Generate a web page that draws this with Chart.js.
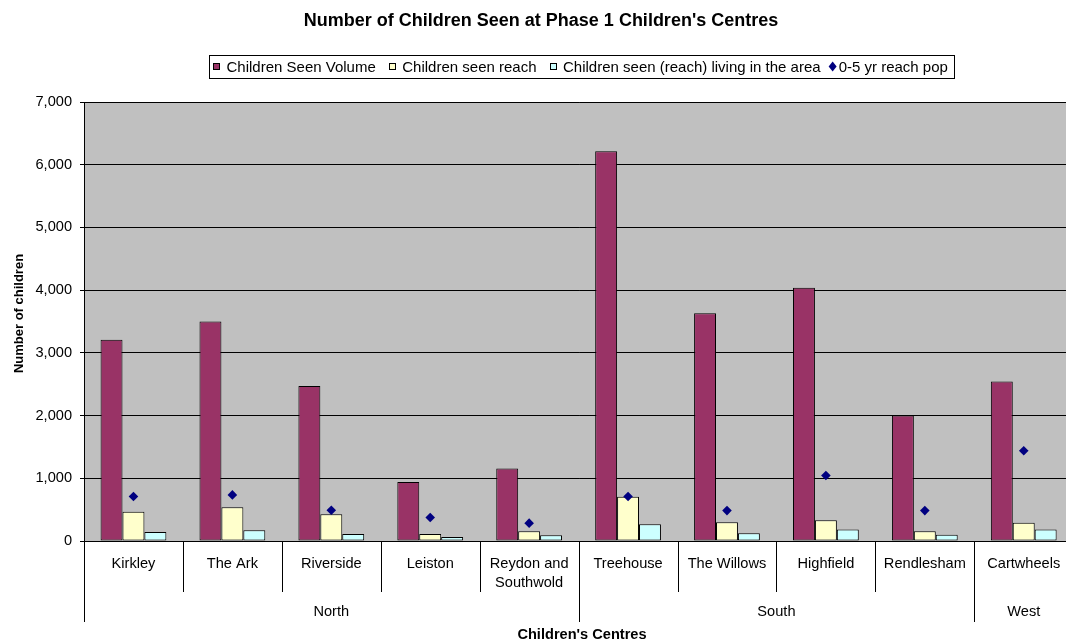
<!DOCTYPE html>
<html>
<head>
<meta charset="utf-8">
<title>Number of Children Seen at Phase 1 Children's Centres</title>
<script src="https://cdn.jsdelivr.net/npm/chart.js@4"></script>
<style>
    html, body { margin: 0; padding: 0; overflow: hidden; background: #ffffff; }
    #chartBox { position: absolute; left: 0; top: 0; }
</style>
</head>
<body>
<canvas id="chartBox" width="1078" height="641"></canvas>
<script>
"use strict";

// Данные диаграммы
const centres = ['Kirkley', 'The Ark', 'Riverside', 'Leiston', ['Reydon and', 'Southwold'],
    'Treehouse', 'The Willows', 'Highfield', 'Rendlesham', 'Cartwheels'];
const regions = ['North', 'North', 'North', 'North', 'North', 'South', 'South', 'South', 'South', 'West'];
const seenVolume = [3210, 3500, 2470, 940, 1155, 6215, 3630, 4040, 2000, 2545];
const seenReach = [465, 540, 425, 110, 155, 705, 300, 330, 155, 290];
const seenLiving = [145, 170, 110, 65, 90, 268, 125, 185, 100, 185];
const reachPop = [710, 735, 490, 375, 285, 710, 485, 1045, 485, 1440];
const yTickValues = [0, 1000, 2000, 3000, 4000, 5000, 6000, 7000];

const seriesNames = ['Children Seen Volume', 'Children seen reach',
    'Children seen (reach) living in the area', '0-5 yr reach pop'];
const seriesColors = ['#993366', '#FFFFCC', '#CCFFFF', '#000080'];

const FONT = "'Liberation Sans', Arial, sans-serif";

// Фон области построения
const plotBackground = {
    id: 'plotBackground',
    beforeDraw(chart) {
        const { ctx, chartArea: a } = chart;
        ctx.save();
        ctx.fillStyle = '#ffffff';
        ctx.fillRect(0, 0, chart.width, chart.height);
        ctx.fillStyle = '#C0C0C0';
        ctx.fillRect(a.left, a.top, a.right - a.left, a.bottom - a.top);
        ctx.restore();
    }
};

// Легенда в рамке
function drawLegend(ctx) {
    ctx.font = '15px ' + FONT;
    const widths = seriesNames.map(t => ctx.measureText(t).width);
    // ширина рамки: отступы, маркеры и текст
    let boxW = 4;
    widths.forEach((w, i) => {
        if (i < 3) boxW += 13.5 + w + 13;
        else boxW += 10 + w + 7;
    });
    boxW = Math.round(boxW - 6);
    const boxL = Math.round(581 - boxW / 2);
    const boxT = 55, boxH = 23, midY = boxT + boxH / 2;
    ctx.strokeStyle = '#000';
    ctx.lineWidth = 1;
    ctx.strokeRect(boxL + 0.5, boxT + 0.5, boxW, boxH);
    ctx.textAlign = 'left';
    let cx = boxL + 4;
    seriesNames.forEach((name, i) => {
        let textX;
        if (i < 3) {
            const sx = Math.round(cx);
            ctx.fillStyle = seriesColors[i];
            ctx.fillRect(sx, Math.round(midY - 3.5), 7, 7);
            ctx.strokeStyle = '#000';
            ctx.strokeRect(sx + 0.5, Math.round(midY - 3.5) + 0.5, 6, 6);
            textX = cx + 13.5;
        } else {
            cx -= 5;
            ctx.fillStyle = seriesColors[i];
            ctx.beginPath();
            ctx.moveTo(cx + 4, midY - 5);
            ctx.lineTo(cx + 8, midY);
            ctx.lineTo(cx + 4, midY + 5);
            ctx.lineTo(cx, midY);
            ctx.closePath();
            ctx.fill();
            textX = cx + 10;
        }
        ctx.fillStyle = '#000';
        ctx.fillText(name, textX, midY + 1);
        cx = textX + widths[i] + 13;
    });
}

// Заголовок, легенда, подписи осей и двухуровневая ось категорий
const chartDecor = {
    id: 'chartDecor',
    afterDraw(chart) {
        const { ctx, chartArea: a } = chart;
        const x = chart.scales.x;
        ctx.save();
        ctx.fillStyle = '#000';
        ctx.textBaseline = 'middle';
        ctx.textAlign = 'center';

        // заголовок
        ctx.font = 'bold 18px ' + FONT;
        ctx.fillText("Number of Children Seen at Phase 1 Children's Centres", 541, 21);

        drawLegend(ctx);

        // подпись оси Y
        ctx.save();
        ctx.fillStyle = '#000';
        ctx.translate(19, (a.top + a.bottom) / 2 - 8);
        ctx.rotate(-Math.PI / 2);
        ctx.textAlign = 'center';
        ctx.font = 'bold 13px ' + FONT;
        ctx.fillText('Number of children', 0, 0);
        ctx.restore();

        // подписи категорий и разделители
        const half = (x.getPixelForValue(1) - x.getPixelForValue(0)) / 2;
        ctx.fillStyle = '#000';
        ctx.textAlign = 'center';
        ctx.font = '14.6px ' + FONT;
        ctx.strokeStyle = '#000';
        ctx.lineWidth = 1;
        for (let i = 0; i <= centres.length; i++) {
            const px = i < centres.length ? x.getPixelForValue(i) - half : x.getPixelForValue(i - 1) + half;
            const isGroupEdge = i === 0 || i === centres.length || regions[i] !== regions[i - 1];
            const bx = Math.round(px) + 0.5;
            ctx.beginPath();
            ctx.moveTo(bx, a.bottom);
            ctx.lineTo(bx, isGroupEdge ? a.bottom + 81 : a.bottom + 51);
            ctx.stroke();
        }
        centres.forEach((label, i) => {
            const lines = Array.isArray(label) ? label : [label];
            lines.forEach((t, k) => ctx.fillText(t, x.getPixelForValue(i), a.bottom + 23 + k * 19));
        });

        // подписи регионов
        let start = 0;
        for (let i = 1; i <= regions.length; i++) {
            if (i === regions.length || regions[i] !== regions[start]) {
                const left = x.getPixelForValue(start) - half;
                const right = x.getPixelForValue(i - 1) + half;
                ctx.fillText(regions[start], (left + right) / 2, a.bottom + 71);
                start = i;
            }
        }

        // подпись оси X
        ctx.font = 'bold 14.6px ' + FONT;
        ctx.fillText("Children's Centres", 582, a.bottom + 94);
        ctx.restore();
    }
};

const ctx = document.getElementById('chartBox').getContext('2d');
const barStyle = { borderColor: '#000', borderWidth: 1, borderSkipped: false, order: 1 };

const chartInstance = new Chart(ctx, {
    type: 'bar',
    data: {
        labels: centres,
        datasets: [
            {
                type: 'line',
                label: seriesNames[3],
                data: reachPop,
                showLine: false,
                pointStyle: 'rectRot',
                pointRadius: 4.8,
                pointBackgroundColor: seriesColors[3],
                pointBorderColor: seriesColors[3],
                pointBorderWidth: 0,
                order: 0
            },
            Object.assign({ label: seriesNames[0], data: seenVolume, backgroundColor: seriesColors[0] }, barStyle),
            Object.assign({ label: seriesNames[1], data: seenReach, backgroundColor: seriesColors[1] }, barStyle),
            Object.assign({ label: seriesNames[2], data: seenLiving, backgroundColor: seriesColors[2] }, barStyle)
        ]
    },
    options: {
        responsive: false,
        animation: false,
        events: [],
        datasets: {
            bar: { categoryPercentage: 0.665, barPercentage: 1.0 }
        },
        layout: {
            padding: { left: 0, right: 1, top: 102, bottom: 0 }
        },
        plugins: {
            legend: { display: false },
            title: { display: false },
            tooltip: { enabled: false }
        },
        scales: {
            x: {
                offset: true,
                grid: { display: false },
                border: { display: true, color: '#000', width: 1 },
                ticks: { display: false },
                afterFit(scale) { scale.height = 100; }
            },
            y: {
                min: 0,
                max: 7000,
                afterBuildTicks(scale) {
                    scale.ticks = yTickValues.map(v => ({ value: v }));
                },
                grid: {
                    color: '#000',
                    lineWidth: 1,
                    drawTicks: true,
                    tickLength: 4,
                    tickColor: '#000'
                },
                border: { display: true, color: '#000', width: 1 },
                ticks: {
                    color: '#000',
                    padding: 8,
                    font: { family: FONT, size: 14.6 },
                    callback: v => v.toLocaleString('en-US')
                },
                afterFit(scale) { scale.width = 84; }
            }
        }
    },
    plugins: [plotBackground, chartDecor]
});
</script>
</body>
</html>
